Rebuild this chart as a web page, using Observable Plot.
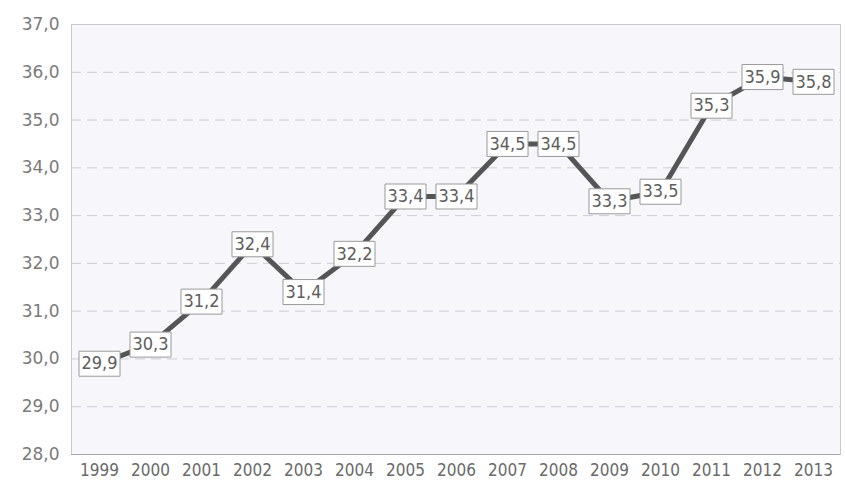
<!DOCTYPE html>
<html>
<head>
<meta charset="utf-8">
<script src="https://cdn.jsdelivr.net/npm/d3@7"></script>
<script src="https://cdn.jsdelivr.net/npm/@observablehq/plot@0.6"></script>
<style>
  html, body { margin: 0; padding: 0; background: #ffffff; }
</style>
</head>
<body>
<div id="chart"></div>
<script>
// Yearly values, 1999–2013
const years = ["1999","2000","2001","2002","2003","2004","2005","2006","2007","2008","2009","2010","2011","2012","2013"];
const values = [29.9, 30.3, 31.2, 32.4, 31.4, 32.2, 33.4, 33.4, 34.5, 34.5, 33.3, 33.5, 35.3, 35.9, 35.8];
const yTicks = [28, 29, 30, 31, 32, 33, 34, 35, 36, 37];

const data = years.map((year, i) => ({year, value: values[i]}));
const comma = (v, digits) => v.toFixed(digits).replace(".", ",");

// Rectangular "label box" symbol for the value tags
const boxSymbol = {
  draw(context) {
    context.moveTo(-20.5, -12.5);
    context.lineTo(20.5, -12.5);
    context.lineTo(20.5, 12.5);
    context.lineTo(-20.5, 12.5);
    context.closePath();
  }
};

const condensed = "'DejaVu Sans Condensed', 'Liberation Sans Narrow', sans-serif";

const chart = Plot.plot({
  width: 845,
  height: 487,
  marginLeft: 71,
  marginRight: 5,
  marginTop: 24,
  marginBottom: 33,
  style: {background: "#ffffff", fontFamily: "'DejaVu Sans', sans-serif"},
  x: {type: "point", domain: years, padding: 0.5, align: 0.5},
  y: {domain: [28, 37]},
  marks: [
    Plot.frame({fill: "#f6f6fb", stroke: null}),
    Plot.ruleY(yTicks.slice(1, -1), {stroke: "#cdcdd6", strokeWidth: 1, strokeDasharray: "10,6"}),
    Plot.frame({stroke: "#c8c8ce", strokeWidth: 1}),
    Plot.ruleY([28], {stroke: "#a6a6ab", strokeWidth: 1.2}),
    Plot.axisY({
      ticks: yTicks,
      tickSize: 0,
      tickPadding: 12,
      tickFormat: d => comma(d, 1),
      fontSize: 17,
      fill: "#7a7a7a",
      label: null
    }),
    Plot.axisX({
      tickSize: 0,
      tickPadding: 9,
      fontSize: 17,
      fontFamily: condensed,
      fill: "#6a6a6a",
      label: null
    }),
    Plot.line(data, {x: "year", y: "value", stroke: "#555555", strokeWidth: 5}),
    Plot.dot(data, {x: "year", y: "value", symbol: boxSymbol, r: 10, fill: "#ffffff", stroke: "#9a9a9a", strokeWidth: 1}),
    Plot.text(data, {
      x: "year",
      y: "value",
      text: d => comma(d.value, 1),
      fontSize: 18,
      fontFamily: condensed,
      fill: "#5e5e5e"
    })
  ]
});

document.getElementById("chart").append(chart);
</script>
</body>
</html>
